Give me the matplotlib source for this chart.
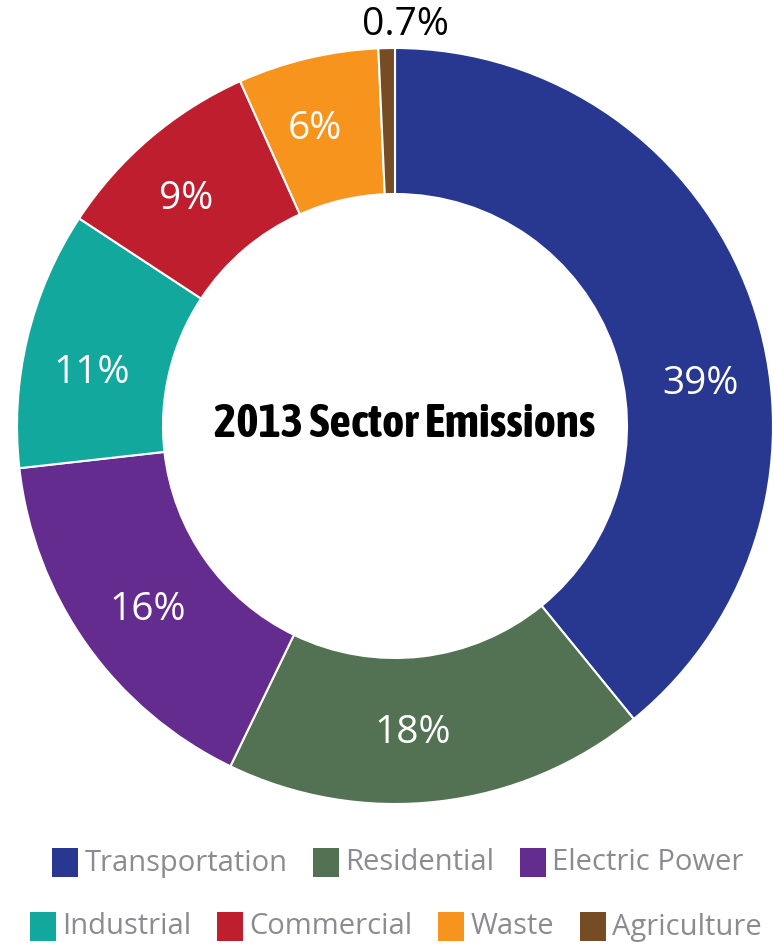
import matplotlib
matplotlib.use("Agg")
import matplotlib.pyplot as plt
import numpy as np
from matplotlib import font_manager
from matplotlib.font_manager import FontProperties
from matplotlib.patches import Rectangle

sectors = ["Transportation", "Residential", "Electric Power", "Industrial",
           "Commercial", "Waste", "Agriculture"]
shares = [39, 18, 16, 11, 9, 6, 0.7]
labels = ["39%", "18%", "16%", "11%", "9%", "6%", "0.7%"]
colors = ["#283891", "#537153", "#652C90", "#13A89E", "#BE1E2D", "#F7941D", "#754C24"]
title = "2013 Sector Emissions"

# label angle nudges (degrees, layout only)
label_nudge = [-11.7, -3.3, 1.4, 3.5, 2.2, 1.7, 0]

names = {f.name for f in font_manager.fontManager.ttflist}
body = "Open Sans" if "Open Sans" in names else "DejaVu Sans"


def _stretch(f):
    s = f.stretch
    if isinstance(s, str):
        return {"ultra-condensed": 100, "extra-condensed": 200, "condensed": 300,
                "semi-condensed": 400, "normal": 500}.get(s, 500)
    return s


def _weight(f):
    w = f.weight
    if isinstance(w, str):
        return {"bold": 700, "semibold": 600, "extra bold": 800, "black": 900,
                "heavy": 900, "demibold": 600}.get(w.lower(), 400)
    return w


title_fp = None
cands = []
for f in font_manager.fontManager.ttflist:
    nm = f.name.lower() + " " + f.fname.lower()
    flat = nm.replace("-", "").replace(" ", "")
    if (("narrow" in nm or "condensed" in nm or _stretch(f) < 500)
            and _weight(f) >= 600 and f.style == "normal"
            and "semicondensed" not in flat and "extracondensed" not in flat):
        cands.append(f)
if cands:
    cands.sort(key=lambda f: (abs(_weight(f) - 700), f.name))
    title_fp = FontProperties(fname=cands[0].fname)
else:
    title_fp = FontProperties(family="Roboto", weight="bold")

W, H = 774, 947
fig = plt.figure(figsize=(W / 100, H / 100), dpi=100)
ax = fig.add_axes([0, 0, 1, 1])

cx, cy = 395, H - 426
R = 378
width = 146

wedges, _ = ax.pie(shares, colors=colors, startangle=90, counterclock=False,
                   radius=R, center=(cx, cy),
                   wedgeprops=dict(width=width, edgecolor="white", linewidth=1.5))
ax.set_xlim(0, W)
ax.set_ylim(0, H)
ax.set_aspect("equal")
ax.axis("off")

for w, lab, nd in zip(wedges, labels, label_nudge):
    ang = np.deg2rad((w.theta1 + w.theta2) / 2 + nd)
    if lab == "0.7%":
        ax.text(cx + 10, H - 6, lab, ha="center", va="top", fontsize=28,
                color="black", family=body)
    else:
        r = 308
        x, y = cx + r * np.cos(ang), cy + r * np.sin(ang)
        ax.text(x, y, lab, ha="center", va="center", fontsize=28, color="white",
                family=body)

fig.canvas.draw()
renderer = fig.canvas.get_renderer()

tt = ax.text(cx + 10, cy + 2, title, ha="center", va="center", color="black",
             fontproperties=title_fp)
tt.set_fontsize(30)
bw = tt.get_window_extent(renderer).width
fs = 30 * 392 / bw
tt.set_fontsize(min(fs, 34))

# legend
rows = [[0, 1, 2], [3, 4, 5, 6]]
row_y = [H - 863, H - 927]
row_cx = [398, 396]
sw, sh = 26, 29
gap_sq = 6
gap_item = 26
for row, yv, rcx in zip(rows, row_y, row_cx):
    texts = []
    widths = []
    for i in row:
        t = ax.text(0, yv, sectors[i], ha="left", va="center", fontsize=21,
                    color="#8b8c90", family=body)
        bb = t.get_window_extent(renderer)
        texts.append(t)
        widths.append(bb.width)
    total = sum(sw + gap_sq + wd for wd in widths) + gap_item * (len(row) - 1)
    x = rcx - total / 2
    for i, t, wd in zip(row, texts, widths):
        ax.add_patch(Rectangle((x, yv - sh / 2), sw, sh, facecolor=colors[i],
                               edgecolor="none"))
        t.set_x(x + sw + gap_sq)
        x += sw + gap_sq + wd + gap_item

fig.savefig("out.png", dpi=100, facecolor="white")
